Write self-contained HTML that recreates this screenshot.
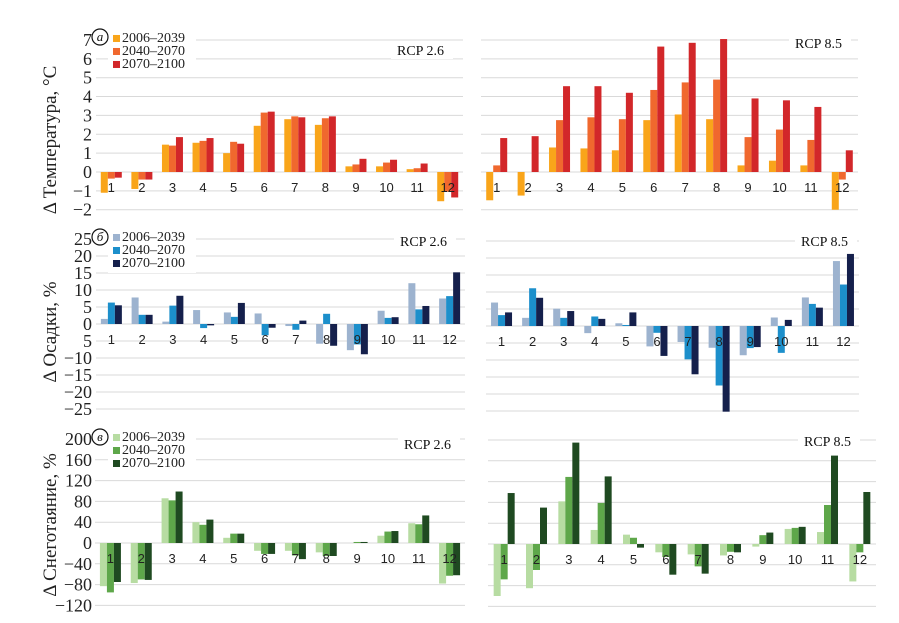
<!DOCTYPE html>
<html><head><meta charset="utf-8">
<style>
html,body{margin:0;padding:0;background:#fff;}
svg{display:block;}
text{font-family:"Liberation Serif","DejaVu Serif",serif;}
.m{font-family:"Liberation Sans","DejaVu Sans",sans-serif;font-size:13px;fill:#222;}
</style></head>
<body>
<svg id="chart" width="899" height="623" viewBox="0 0 899 623" xmlns="http://www.w3.org/2000/svg"></svg>
<script>
const months = ["1","2","3","4","5","6","7","8","9","10","11","12"];
const periods = ["2006–2039","2040–2070","2070–2100"];
// Temperature RCP 2.6
const tempRcp26P1 = [-1.1,-0.9,1.45,1.55,1.0,2.45,2.8,2.5,0.3,0.3,0.15,-1.55];
const tempRcp26P2 = [-0.35,-0.4,1.4,1.65,1.6,3.15,2.95,2.85,0.4,0.5,0.2,-1.05];
const tempRcp26P3 = [-0.3,-0.4,1.85,1.8,1.5,3.2,2.9,2.95,0.7,0.65,0.45,-1.35];
// Temperature RCP 8.5
const tempRcp85P1 = [-1.5,-1.25,1.3,1.25,1.15,2.75,3.05,2.8,0.35,0.6,0.35,-2.0];
const tempRcp85P2 = [0.35,0,2.75,2.9,2.8,4.35,4.75,4.9,1.85,2.25,1.7,-0.4];
const tempRcp85P3 = [1.8,1.9,4.55,4.55,4.2,6.65,6.85,7.05,3.9,3.8,3.45,1.15];
// Precipitation RCP 2.6
const precRcp26P1 = [1.5,7.8,0.7,4.1,3.4,3.1,-0.6,-5.8,-7.7,3.9,12,7.5];
const precRcp26P2 = [6.3,2.7,5.4,-1.2,2.1,-3.3,-1.7,3.0,-6.0,1.8,4.3,8.2];
const precRcp26P3 = [5.5,2.7,8.3,-0.4,6.2,-1.1,1.0,-6.4,-8.9,2.0,5.3,15.2];
// Precipitation RCP 8.5
const precRcp85P1 = [6.9,2.4,5.1,-2.1,0.8,-6.0,-4.7,-6.4,-8.6,2.5,8.4,19.1];
const precRcp85P2 = [3.2,11.1,2.4,2.8,0.3,-2.0,-9.8,-17.5,-6.5,-7.9,6.5,12.2];
const precRcp85P3 = [4.0,8.3,4.4,2.1,4.0,-8.8,-14.2,-25.2,-6.2,1.8,5.4,21.2];
// Snowmelt RCP 2.6
const snowRcp26P1 = [-83,-77,86,40,10,-15,-15,-18,0,14,38,-78];
const snowRcp26P2 = [-95,-70,82,35,18,-21,-24,-25,2,22,36,-63];
const snowRcp26P3 = [-75,-71,99,45,18,-21,-31,-25,2,23,53,-62];
// Snowmelt RCP 8.5
const snowRcp85P1 = [-100,-85,82,27,18,-16,-20,-22,-5,29,23,-72];
const snowRcp85P2 = [-68,-50,129,79,12,-25,-43,-15,17,31,75,-16];
const snowRcp85P3 = [98,70,195,130,-7,-59,-57,-16,22,33,170,100];

const tempTicks = [7,6,5,4,3,2,1,0,-1,-2];
const precTicks = [25,20,15,10,5,0,-5,-10,-15,-20,-25];
const snowTicks = [200,160,120,80,40,0,-40,-80,-120];
const precTickLabels = ["25","20","15","10","5","0","5","−10","−15","−20","−25"];

const NS="http://www.w3.org/2000/svg";
const svg=document.getElementById('chart');
function mk(tag,attrs,parent){const e=document.createElementNS(NS,tag);for(const k in attrs)e.setAttribute(k,attrs[k]);(parent||svg).appendChild(e);return e;}

const panels=[
 {id:'temp-rcp26',x0:96,x1:463,zero:172,scale:18.86,ticks:tempTicks,series:[tempRcp26P1,tempRcp26P2,tempRcp26P3],colors:['#F9A51A','#F0682E','#D2272A'],rcp:'RCP 2.6',rx:397,ry:55,left:true},
 {id:'temp-rcp85',x0:481,x1:858,zero:172,scale:18.86,ticks:tempTicks,series:[tempRcp85P1,tempRcp85P2,tempRcp85P3],colors:['#F9A51A','#F0682E','#D2272A'],rcp:'RCP 8.5',rx:795,ry:48,left:false},
 {id:'prec-rcp26',x0:96,x1:465,zero:324,scale:3.4,ticks:precTicks,series:[precRcp26P1,precRcp26P2,precRcp26P3],colors:['#9DB3CF','#1C8FCB','#15204C'],rcp:'RCP 2.6',rx:400,ry:246,left:true},
 {id:'prec-rcp85',x0:486,x1:859,zero:326,scale:3.4,ticks:precTicks,series:[precRcp85P1,precRcp85P2,precRcp85P3],colors:['#9DB3CF','#1C8FCB','#15204C'],rcp:'RCP 8.5',rx:801,ry:246,left:false},
 {id:'snow-rcp26',x0:95,x1:465,zero:543,scale:0.52,ticks:snowTicks,series:[snowRcp26P1,snowRcp26P2,snowRcp26P3],colors:['#B7DCA2','#5EA74A','#1F4A21'],rcp:'RCP 2.6',rx:404,ry:449,left:true},
 {id:'snow-rcp85',x0:488,x1:876,zero:544,scale:0.52,ticks:snowTicks,series:[snowRcp85P1,snowRcp85P2,snowRcp85P3],colors:['#B7DCA2','#5EA74A','#1F4A21'],rcp:'RCP 8.5',rx:804,ry:446,left:false}
];

panels.forEach((p,pi)=>{
  const g=mk('g',{});
  
  
  const y=v=>p.zero-v*p.scale;
  const cw=(p.x1-p.x0)/months.length;
  const bw=7;
  p.ticks.forEach((t,i)=>{
    const gl=mk('line',{x1:p.x0,x2:p.x1,y1:y(t),y2:y(t),stroke:'#d9d9d9','stroke-width':1},g);
    
    
    if(p.left){
      const lbl = p.ticks===precTicks ? precTickLabels[i] : String(t).replace('-','−');
      const tx=mk('text',{x:92,y:y(t)+6,'text-anchor':'end','font-size':18,fill:'#222'},g);
      tx.textContent=lbl;
      
      
    }
  });
  p.series.forEach((s,si)=>{
    s.forEach((v,mi)=>{
      const cx=p.x0+cw*(mi+0.5);
      const bx=cx-1.5*bw+si*bw;
      const r=mk('rect',{x:bx,y:Math.min(y(v),y(0)),width:bw,height:Math.abs(y(v)-y(0)),fill:p.colors[si]},g);
      
      
    });
  });
  months.forEach((m,mi)=>{
    const cx=p.x0+cw*(mi+0.5);
    const t=mk('text',{x:cx,y:p.zero+20,'text-anchor':'middle',class:'m'},g);
    t.textContent=m;
    
    
  });
  const tw=50;
  mk('rect',{x:p.rx-6,y:p.ry-14,width:tw+12,height:18,fill:'#fff'},g);
  const rl=mk('text',{x:p.rx,y:p.ry,'font-size':14,fill:'#111'},g);
  rl.textContent=p.rcp;
  
  
  if(p.left){
    const ly=[0,13,26].map(d=>y(p.ticks[0])+2+d);
    mk('rect',{x:108,y:ly[0]-10,width:88,height:42,fill:'#fff'},g);
    periods.forEach((per,si)=>{
      const lg=mk('g',{},g);
      
      
      mk('rect',{x:113,y:ly[si]-7,width:7,height:7,fill:p.colors[si]},lg);
      const lt=mk('text',{x:122,y:ly[si],'font-size':14,fill:'#222'},lg);
      lt.textContent=per;
    });
  }
});

[['а',37],['б',237],['в',437]].forEach(([l,cy])=>{
  const g=mk('g',{});
  
  
  mk('circle',{cx:100,cy:cy,r:8,fill:'#fff',stroke:'#111','stroke-width':1.2},g);
  const t=mk('text',{x:100,y:cy+4,'text-anchor':'middle','font-size':13,'font-style':'italic',fill:'#111'},g);
  t.textContent=l;
});

[['Δ Температура, °C',140,'temperature-axis-title'],['Δ Осадки, %',332,'precipitation-axis-title'],['Δ Снеготаяние, %',525,'snowmelt-axis-title']].forEach(([s,cy,n])=>{
  const t=mk('text',{x:0,y:0,'text-anchor':'middle','font-size':19,fill:'#222',transform:'translate(56,'+cy+') rotate(-90)'});
  t.textContent=s;
  
  
});
</script>
</body></html>
